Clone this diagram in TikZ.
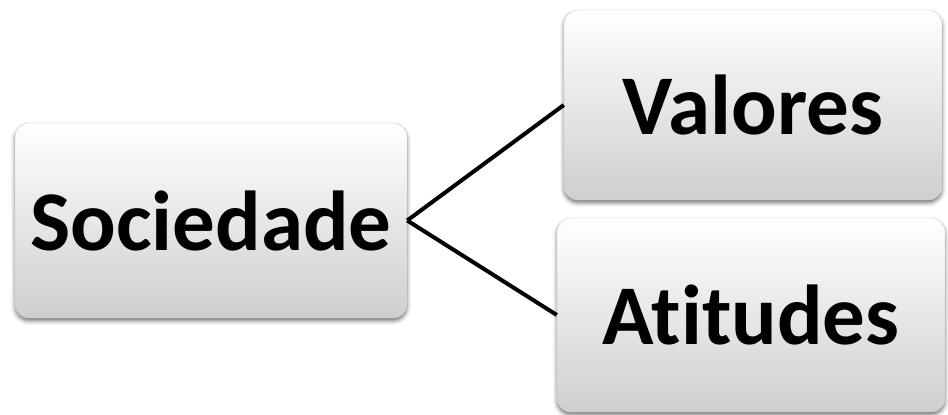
\documentclass[tikz,border=0pt]{standalone}
\usepackage{fontspec}
\setmainfont{Carlito}[RawFeature=-liga]
\usetikzlibrary{positioning,shadows.blur}

\begin{document}
\begin{tikzpicture}[x=1pt,y=1pt,termo/.style={draw=black!18,rounded corners=14pt,top color=white,bottom color=black!19,blur shadow={shadow xshift=0pt,shadow yshift=-3pt,shadow blur radius=4pt,shadow opacity=55},font=\fontsize{85}{95}\selectfont\bfseries,inner sep=0pt},liga/.style={draw=black,line width=4pt}]
\useasboundingbox (0,0) rectangle (948,415);
\node[termo,minimum width=392pt,minimum height=195pt] (sociedade) at (211,194.5) {Sociedade};
\node[termo,minimum width=378pt,minimum height=190pt] (valores) at (753,310) {Valores};
\node[termo,minimum width=388pt,minimum height=194pt] (atitudes) at (751,100) {Atitudes};
\draw[liga](sociedade.east)--(valores.west);\draw[liga](sociedade.east)--(atitudes.west);
\end{tikzpicture}
\end{document}
